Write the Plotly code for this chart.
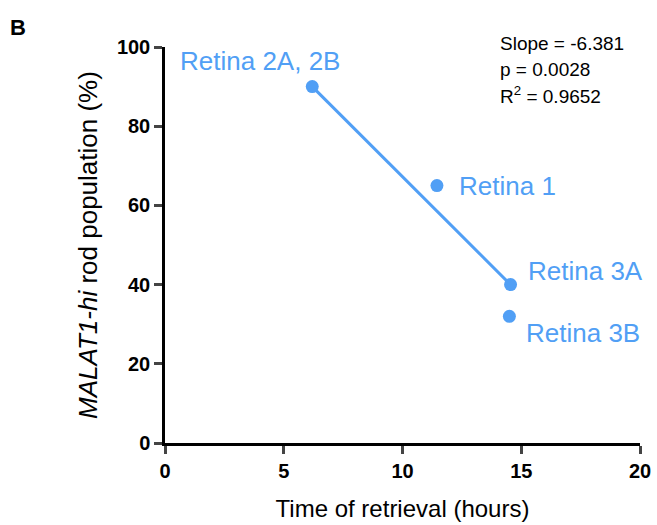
import plotly.graph_objects as go

time_hours = [6.2, 11.45, 14.55, 14.5]
malat_pct = [90, 65, 40, 32]
point_labels = ["Retina 2A, 2B", "Retina 1", "Retina 3A", "Retina 3B"]
fit_x = [6.2, 14.55]
fit_y = [90, 40]
stats_lines = ["Slope = -6.381", "p = 0.0028", "R<sup>2</sup> = 0.9652"]
x_ticks = [0, 5, 10, 15, 20]
y_ticks = [0, 20, 40, 60, 80, 100]

blue = "#519ff5"
font = "Liberation Sans, Arial, sans-serif"

fig = go.Figure()
fig.add_trace(go.Scatter(x=fit_x, y=fit_y, mode="lines",
                         line=dict(color=blue, width=3), hoverinfo="skip"))
fig.add_trace(go.Scatter(x=time_hours, y=malat_pct, mode="markers",
                         marker=dict(color=blue, size=13), hoverinfo="skip"))

label_pos = [("center", "bottom", -52, -9), ("left", "middle", 20, 0),
             ("left", "bottom", 15, 3), ("left", "top", 15, 0)]
for x, y, t, (xa, ya, dx, dy) in zip(time_hours, malat_pct, point_labels, label_pos):
    fig.add_annotation(x=x, y=y, text=t, showarrow=False, xanchor=xa, yanchor=ya,
                       xshift=dx, yshift=-dy,
                       font=dict(family=font, size=26, color=blue))

stats_y = [1.010, 0.942, 0.880]
for t, yy in zip(stats_lines, stats_y):
    fig.add_annotation(xref="paper", yref="paper", x=0.702, y=yy, xanchor="left", yanchor="middle",
                       text=t, showarrow=False, align="left",
                       font=dict(family=font, size=19, color="black"))
fig.add_annotation(xref="paper", yref="paper", x=-0.331, y=1.048, xanchor="left", yanchor="middle",
                   text="<b>B</b>", showarrow=False,
                   font=dict(family=font, size=22, color="black"))

fig.update_layout(
    width=657, height=525, showlegend=False,
    paper_bgcolor="white", plot_bgcolor="white",
    margin=dict(l=165, r=17, t=47, b=82),
    font=dict(family=font, color="black"),
)
fig.update_xaxes(range=[0, 20], tickvals=x_ticks, ticks="outside", ticklen=8, tickwidth=2.5,
                 showline=True, linewidth=2.5, linecolor="black", showgrid=False, zeroline=False,
                 automargin=False,
                 tickfont=dict(family=font, size=20, color="black", weight="bold"),
                 title=dict(text="Time of retrieval (hours)", font=dict(family=font, size=24), standoff=20))
fig.update_yaxes(range=[0, 100], tickvals=y_ticks, ticks="outside", ticklen=8, tickwidth=2.5,
                 showline=True, linewidth=2.5, linecolor="black", showgrid=False, zeroline=False,
                 automargin=False,
                 tickfont=dict(family=font, size=20, color="black", weight="bold"),
                 title=dict(text="<i>MALAT1-hi</i> rod population (%)", font=dict(family=font, size=26), standoff=12))

fig.write_html("out.html")
